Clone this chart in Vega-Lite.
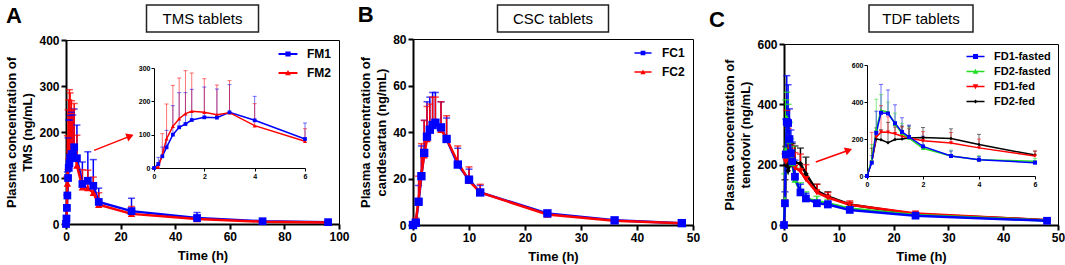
{
"$schema": "https://vega.github.io/schema/vega-lite/v6.json",
"padding": {"left": 5, "top": 3, "right": 1, "bottom": 2},
"background": "white",
"spacing": 7,
"resolve": {"scale": {"color": "independent", "shape": "independent"}, "legend": {"color": "independent", "shape": "independent"}},
"config": {
  "font": "Liberation Sans",
  "view": {"stroke": "#000", "strokeWidth": 1},
  "axis": {"domainColor": "#000", "domainWidth": 2, "tickColor": "#000", "tickWidth": 2, "tickSize": 5, "labelFont": "Liberation Sans", "labelFontWeight": "bold", "labelFontSize": 12, "labelColor": "#000", "labelPadding": 2, "titleFont": "Liberation Sans", "titleFontWeight": "bold", "titleFontSize": 13, "titleColor": "#000", "grid": false, "labelFlush": false},
  "axisY": {"titlePadding": 4, "titleLineHeight": 16},
  "axisX": {"titlePadding": 7},
  "title": {"font": "Liberation Sans", "fontSize": 22, "fontWeight": "bold", "color": "#000", "anchor": "start", "frame": "bounds", "offset": 6}
},
"datasets": {
  "A": [
    {"t":0,"s":"FM1","c":0,"u":0},{"t":0.17,"s":"FM1","c":12,"u":32},{"t":0.33,"s":"FM1","c":35,"u":63},{"t":0.5,"s":"FM1","c":62,"u":113},{"t":0.75,"s":"FM1","c":100,"u":187},{"t":1,"s":"FM1","c":122,"u":226},{"t":1.25,"s":"FM1","c":132,"u":226},{"t":1.5,"s":"FM1","c":144,"u":236},{"t":2,"s":"FM1","c":152,"u":243},{"t":2.5,"s":"FM1","c":151,"u":237},{"t":3,"s":"FM1","c":167,"u":250},{"t":4,"s":"FM1","c":143,"u":215},{"t":6,"s":"FM1","c":87,"u":135},{"t":8,"s":"FM1","c":94,"u":157},{"t":10,"s":"FM1","c":83,"u":140},{"t":12,"s":"FM1","c":48,"u":78},{"t":24,"s":"FM1","c":28,"u":56},{"t":48,"s":"FM1","c":13,"u":25},{"t":72,"s":"FM1","c":6,"u":9},{"t":96,"s":"FM1","c":4,"u":6},
    {"t":0,"s":"FM2","c":0,"u":0},{"t":0.17,"s":"FM2","c":3,"u":8},{"t":0.33,"s":"FM2","c":40,"u":103},{"t":0.5,"s":"FM2","c":88,"u":192},{"t":0.75,"s":"FM2","c":125,"u":248},{"t":1,"s":"FM2","c":148,"u":270},{"t":1.25,"s":"FM2","c":163,"u":292},{"t":1.5,"s":"FM2","c":170,"u":285},{"t":2,"s":"FM2","c":167,"u":268},{"t":2.5,"s":"FM2","c":160,"u":249},{"t":3,"s":"FM2","c":166,"u":262},{"t":4,"s":"FM2","c":127,"u":193},{"t":6,"s":"FM2","c":80,"u":118},{"t":8,"s":"FM2","c":78,"u":117},{"t":10,"s":"FM2","c":68,"u":102},{"t":12,"s":"FM2","c":42,"u":68},{"t":24,"s":"FM2","c":22,"u":38},{"t":48,"s":"FM2","c":11,"u":18},{"t":72,"s":"FM2","c":5,"u":7},{"t":96,"s":"FM2","c":3,"u":4}
  ],
  "B": [
    {"t":0,"s":"FC1","c":0,"u":0},{"t":0.5,"s":"FC1","c":1,"u":2},{"t":1,"s":"FC1","c":10,"u":17},{"t":1.5,"s":"FC1","c":21,"u":34},{"t":2,"s":"FC1","c":31,"u":45},{"t":2.5,"s":"FC1","c":38,"u":53},{"t":3,"s":"FC1","c":41,"u":55},{"t":3.5,"s":"FC1","c":43,"u":57},{"t":4,"s":"FC1","c":44,"u":57},{"t":5,"s":"FC1","c":42,"u":53},{"t":6,"s":"FC1","c":37,"u":46},{"t":8,"s":"FC1","c":26,"u":33},{"t":10,"s":"FC1","c":19.5,"u":24},{"t":12,"s":"FC1","c":14,"u":17},{"t":24,"s":"FC1","c":5,"u":6},{"t":36,"s":"FC1","c":2,"u":2.5},{"t":48,"s":"FC1","c":0.8,"u":1},
    {"t":0,"s":"FC2","c":0,"u":0},{"t":0.5,"s":"FC2","c":1.5,"u":3},{"t":1,"s":"FC2","c":11,"u":21},{"t":1.5,"s":"FC2","c":22,"u":35},{"t":2,"s":"FC2","c":30,"u":45},{"t":2.5,"s":"FC2","c":37,"u":51},{"t":3,"s":"FC2","c":41,"u":52},{"t":3.5,"s":"FC2","c":43,"u":55},{"t":4,"s":"FC2","c":44,"u":55},{"t":5,"s":"FC2","c":41,"u":53},{"t":6,"s":"FC2","c":37,"u":47},{"t":8,"s":"FC2","c":27,"u":34},{"t":10,"s":"FC2","c":19,"u":25},{"t":12,"s":"FC2","c":14,"u":17.5},{"t":24,"s":"FC2","c":4.5,"u":6},{"t":36,"s":"FC2","c":1.8,"u":2.3},{"t":48,"s":"FC2","c":0.7,"u":1}
  ],
  "C": [
    {"t":0,"s":"FD2-fed","c":0,"u":0},{"t":0.17,"s":"FD2-fed","c":80,"u":150},{"t":0.33,"s":"FD2-fed","c":200,"u":260},{"t":0.5,"s":"FD2-fed","c":196,"u":250},{"t":0.75,"s":"FD2-fed","c":180,"u":290},{"t":1,"s":"FD2-fed","c":197,"u":265},{"t":1.25,"s":"FD2-fed","c":200,"u":270},{"t":1.5,"s":"FD2-fed","c":205,"u":270},{"t":2,"s":"FD2-fed","c":208,"u":262},{"t":3,"s":"FD2-fed","c":203,"u":255},{"t":4,"s":"FD2-fed","c":170,"u":225},{"t":6,"s":"FD2-fed","c":113,"u":135},{"t":8,"s":"FD2-fed","c":95,"u":110},{"t":12,"s":"FD2-fed","c":68,"u":75},{"t":24,"s":"FD2-fed","c":36,"u":40},{"t":48,"s":"FD2-fed","c":16,"u":19},
    {"t":0,"s":"FD1-fed","c":0,"u":0},{"t":0.17,"s":"FD1-fed","c":75,"u":236},{"t":0.33,"s":"FD1-fed","c":210,"u":240},{"t":0.5,"s":"FD1-fed","c":238,"u":380},{"t":0.75,"s":"FD1-fed","c":237,"u":320},{"t":1,"s":"FD1-fed","c":228,"u":290},{"t":1.25,"s":"FD1-fed","c":215,"u":265},{"t":1.5,"s":"FD1-fed","c":205,"u":255},{"t":2,"s":"FD1-fed","c":190,"u":240},{"t":3,"s":"FD1-fed","c":178,"u":235},{"t":4,"s":"FD1-fed","c":152,"u":200},{"t":6,"s":"FD1-fed","c":108,"u":135},{"t":8,"s":"FD1-fed","c":91,"u":108},{"t":12,"s":"FD1-fed","c":67,"u":80},{"t":24,"s":"FD1-fed","c":38,"u":42},{"t":48,"s":"FD1-fed","c":16,"u":20},
    {"t":0,"s":"FD2-fasted","c":0,"u":0},{"t":0.17,"s":"FD2-fasted","c":85,"u":170},{"t":0.33,"s":"FD2-fasted","c":250,"u":415},{"t":0.5,"s":"FD2-fasted","c":355,"u":440},{"t":0.75,"s":"FD2-fasted","c":345,"u":400},{"t":1,"s":"FD2-fasted","c":280,"u":340},{"t":1.25,"s":"FD2-fasted","c":230,"u":285},{"t":1.5,"s":"FD2-fasted","c":205,"u":260},{"t":2,"s":"FD2-fasted","c":150,"u":190},{"t":3,"s":"FD2-fasted","c":108,"u":140},{"t":4,"s":"FD2-fasted","c":88,"u":110},{"t":6,"s":"FD2-fasted","c":80,"u":95},{"t":8,"s":"FD2-fasted","c":72,"u":85},{"t":12,"s":"FD2-fasted","c":55,"u":62},{"t":24,"s":"FD2-fasted","c":33,"u":38},{"t":48,"s":"FD2-fasted","c":15,"u":18},
    {"t":0,"s":"FD1-fasted","c":0,"u":0},{"t":0.17,"s":"FD1-fasted","c":72,"u":110},{"t":0.33,"s":"FD1-fasted","c":234,"u":350},{"t":0.5,"s":"FD1-fasted","c":342,"u":495},{"t":0.75,"s":"FD1-fasted","c":338,"u":465},{"t":1,"s":"FD1-fasted","c":285,"u":385},{"t":1.25,"s":"FD1-fasted","c":238,"u":315},{"t":1.5,"s":"FD1-fasted","c":211,"u":275},{"t":2,"s":"FD1-fasted","c":160,"u":215},{"t":3,"s":"FD1-fasted","c":108,"u":135},{"t":4,"s":"FD1-fasted","c":88,"u":105},{"t":6,"s":"FD1-fasted","c":72,"u":82},{"t":8,"s":"FD1-fasted","c":68,"u":80},{"t":12,"s":"FD1-fasted","c":50,"u":58},{"t":24,"s":"FD1-fasted","c":31,"u":36},{"t":48,"s":"FD1-fasted","c":14,"u":17}
  ]
},
"hconcat": [
  {
    "bounds": "flush", "center": true, "spacing": 8,
    "resolve": {"legend": {"color": "independent", "shape": "independent"}},
    "vconcat": [
      {"width": 112, "height": 27, "view": {"stroke": "#222", "strokeWidth": 1.5}, "data": {"values": [{}]}, "mark": {"type": "text", "fontSize": 15, "font": "Liberation Sans", "color": "#000"}, "encoding": {"text": {"value": "TMS tablets"}}},
      {
        "width": 273, "height": 184,
        "title": {"text": "A"},
        "data": {"name": "A"},
        "resolve": {"scale": {"x": "independent", "y": "independent"}},
        "layer": [
          {
            "encoding": {
              "x": {"field": "t", "type": "quantitative", "scale": {"domain": [0, 100], "nice": false}, "axis": {"title": "Time (h)", "values": [0, 20, 40, 60, 80, 100]}},
              "y": {"field": "c", "type": "quantitative", "scale": {"domain": [0, 400], "nice": false}, "axis": {"title": ["Plasma concentration of", "TMS (ng/mL)"], "values": [0, 100, 200, 300, 400]}}
            },
            "layer": [
              {"transform": [{"filter": "false"}], "mark": {"type": "point", "filled": true, "opacity": 1},
               "encoding": {
                 "color": {"field": "s", "type": "nominal", "scale": {"domain": ["FM1", "FM2"], "range": ["#0000ff", "#ff0000"]}, "legend": {"title": null, "orient": "top-right", "offset": 8, "labelFontSize": 12, "labelFontWeight": "bold", "labelColor": "#000", "symbolSize": 110, "labelOffset": 13, "rowPadding": 7, "padding": 0, "symbolStrokeWidth": 0}},
                 "shape": {"field": "s", "type": "nominal", "scale": {"domain": ["FM1", "FM2"], "range": ["M-1.8,-0.17H1.8V0.17H-1.8Z M-0.5,-0.5H0.5V0.5H-0.5Z", "M-1.8,-0.17H1.8V0.17H-1.8Z M0,-0.55L0.55,0.45H-0.55Z"]}, "legend": {"title": null, "orient": "top-right", "offset": 8, "labelFontSize": 12, "labelFontWeight": "bold", "labelColor": "#000", "symbolSize": 110, "labelOffset": 13, "rowPadding": 7, "padding": 0, "symbolStrokeWidth": 0}}
               }},
              {"mark": {"type": "rule", "strokeWidth": 1.5}, "encoding": {"y2": {"field": "u"}, "color": {"field": "s", "type": "nominal", "scale": {"domain": ["FM1", "FM2"], "range": ["#0000ff", "#ff0000"]}, "legend": null}}},
              {"mark": {"type": "tick", "orient": "horizontal", "size": 7, "thickness": 1.5}, "encoding": {"y": {"field": "u", "type": "quantitative"}, "color": {"field": "s", "type": "nominal", "scale": {"domain": ["FM1", "FM2"], "range": ["#0000ff", "#ff0000"]}, "legend": null}}},
              {"mark": {"type": "line", "strokeWidth": 2.5}, "encoding": {"color": {"field": "s", "type": "nominal", "scale": {"domain": ["FM1", "FM2"], "range": ["#0000ff", "#ff0000"]}, "legend": null}}},
              {"transform": [{"filter": "datum.s === 'FM2'"}], "mark": {"type": "point", "shape": "triangle-up", "filled": true, "size": 55, "opacity": 1, "color": "#ff0000"}, "encoding": {}},
              {"transform": [{"filter": "datum.s === 'FM1'"}], "mark": {"type": "point", "shape": "square", "filled": true, "size": 60, "opacity": 1, "color": "#0000ff"}, "encoding": {}},
              {"data": {"values": [{"t": 10.3, "c": 160}, {"t": 23.5, "c": 191}]}, "mark": {"type": "line", "color": "#ff0000", "strokeWidth": 1.5}, "encoding": {}},
              {"data": {"values": [{"t": 23.5, "c": 191}]}, "mark": {"type": "point", "shape": "triangle-right", "angle": -22, "size": 70, "filled": true, "opacity": 1, "color": "#ff0000"}, "encoding": {}}
            ]
          },
          {
            "transform": [{"filter": "datum.t <= 6"}],
            "encoding": {
              "x": {"field": "t", "type": "quantitative", "scale": {"domain": [0, 6], "range": [88, 239], "nice": false}, "axis": {"orient": "bottom", "offset": -56, "title": null, "values": [0, 2, 4, 6], "labelFontSize": 7, "domainWidth": 1, "tickWidth": 1, "tickSize": 3, "labelPadding": 1}},
              "y": {"field": "c", "type": "quantitative", "scale": {"domain": [0, 300], "range": [128, 28], "nice": false}, "axis": {"orient": "left", "offset": -88, "title": null, "values": [0, 100, 200, 300], "labelFontSize": 7, "domainWidth": 1, "tickWidth": 1, "tickSize": 3, "labelPadding": 1}},
              "color": {"field": "s", "type": "nominal", "scale": {"domain": ["FM1", "FM2"], "range": ["#0000ff", "#ff0000"]}, "legend": null}
            },
            "layer": [
              {"mark": {"type": "rule", "strokeWidth": 1, "opacity": 0.55}, "encoding": {"y2": {"field": "u"}}},
              {"mark": {"type": "tick", "orient": "horizontal", "size": 4, "thickness": 1, "opacity": 0.55}, "encoding": {"y": {"field": "u", "type": "quantitative"}}},
              {"mark": {"type": "line", "strokeWidth": 1.5}},
              {"transform": [{"filter": "datum.s === 'FM2'"}], "mark": {"type": "point", "shape": "triangle-up", "filled": true, "size": 16, "opacity": 1}},
              {"transform": [{"filter": "datum.s === 'FM1'"}], "mark": {"type": "point", "shape": "square", "filled": true, "size": 14, "opacity": 1}}
            ]
          }
        ]
      }
    ]
  },
  {
    "bounds": "flush", "center": true, "spacing": 7,
    "resolve": {"legend": {"color": "independent", "shape": "independent"}},
    "vconcat": [
      {"width": 111, "height": 27, "view": {"stroke": "#222", "strokeWidth": 1.5}, "data": {"values": [{}]}, "mark": {"type": "text", "fontSize": 15, "font": "Liberation Sans", "color": "#000"}, "encoding": {"text": {"value": "CSC tablets"}}},
      {
        "width": 280, "height": 186,
        "title": {"text": "B", "dx": -2},
        "data": {"name": "B"},
        "encoding": {
          "x": {"field": "t", "type": "quantitative", "scale": {"domain": [0, 50], "nice": false}, "axis": {"title": "Time (h)", "values": [0, 10, 20, 30, 40, 50]}},
          "y": {"field": "c", "type": "quantitative", "scale": {"domain": [0, 80], "nice": false}, "axis": {"title": ["Plasma concentration of", "candesartan (ng/mL)"], "values": [0, 20, 40, 60, 80]}}
        },
        "layer": [
          {"transform": [{"filter": "false"}], "mark": {"type": "point", "filled": true, "opacity": 1},
           "encoding": {
             "color": {"field": "s", "type": "nominal", "scale": {"domain": ["FC1", "FC2"], "range": ["#0000ff", "#ff0000"]}, "legend": {"title": null, "orient": "top-right", "offset": 8, "labelFontSize": 12, "labelFontWeight": "bold", "labelColor": "#000", "symbolSize": 90, "labelOffset": 13, "rowPadding": 7, "padding": 0, "symbolStrokeWidth": 0}},
             "shape": {"field": "s", "type": "nominal", "scale": {"domain": ["FC1", "FC2"], "range": ["M-1.8,-0.17H1.8V0.17H-1.8Z M-0.5,-0.5H0.5V0.5H-0.5Z", "M-1.8,-0.17H1.8V0.17H-1.8Z M0,-0.55L0.55,0.45H-0.55Z"]}, "legend": {"title": null, "orient": "top-right", "offset": 8, "labelFontSize": 12, "labelFontWeight": "bold", "labelColor": "#000", "symbolSize": 90, "labelOffset": 13, "rowPadding": 7, "padding": 0, "symbolStrokeWidth": 0}}
           }},
          {"mark": {"type": "rule", "strokeWidth": 1.5}, "encoding": {"y2": {"field": "u"}, "color": {"field": "s", "type": "nominal", "scale": {"domain": ["FC1", "FC2"], "range": ["#0000ff", "#ff0000"]}, "legend": null}}},
          {"mark": {"type": "tick", "orient": "horizontal", "size": 7, "thickness": 1.5}, "encoding": {"y": {"field": "u", "type": "quantitative"}, "color": {"field": "s", "type": "nominal", "scale": {"domain": ["FC1", "FC2"], "range": ["#0000ff", "#ff0000"]}, "legend": null}}},
          {"mark": {"type": "line", "strokeWidth": 2.5}, "encoding": {"color": {"field": "s", "type": "nominal", "scale": {"domain": ["FC1", "FC2"], "range": ["#0000ff", "#ff0000"]}, "legend": null}}},
          {"transform": [{"filter": "datum.s === 'FC2'"}], "mark": {"type": "point", "shape": "triangle-up", "filled": true, "size": 55, "opacity": 1, "color": "#ff0000"}, "encoding": {}},
          {"transform": [{"filter": "datum.s === 'FC1'"}], "mark": {"type": "point", "shape": "square", "filled": true, "size": 70, "opacity": 1, "color": "#0000ff"}, "encoding": {}}
        ]
      }
    ]
  },
  {
    "bounds": "flush", "center": true, "spacing": 12,
    "resolve": {"legend": {"color": "independent", "shape": "independent"}},
    "vconcat": [
      {"width": 104, "height": 27, "view": {"stroke": "#222", "strokeWidth": 1.5}, "data": {"values": [{}]}, "mark": {"type": "text", "fontSize": 15, "font": "Liberation Sans", "color": "#000"}, "encoding": {"text": {"value": "TDF tablets"}}},
      {
        "width": 274, "height": 181,
        "title": {"text": "C", "dx": -15},
        "data": {"name": "C"},
        "resolve": {"scale": {"x": "independent", "y": "independent"}},
        "layer": [
          {
            "encoding": {
              "x": {"field": "t", "type": "quantitative", "scale": {"domain": [0, 50], "nice": false}, "axis": {"title": "Time (h)", "values": [0, 10, 20, 30, 40, 50]}},
              "y": {"field": "c", "type": "quantitative", "scale": {"domain": [0, 600], "nice": false}, "axis": {"title": ["Plasma concentration of", "tenofovir (ng/mL)"], "values": [0, 200, 400, 600]}}
            },
            "layer": [
              {"transform": [{"filter": "false"}], "mark": {"type": "point", "filled": true, "opacity": 1},
               "encoding": {
                 "color": {"field": "s", "type": "nominal", "scale": {"domain": ["FD1-fasted", "FD2-fasted", "FD1-fed", "FD2-fed"], "range": ["#0000ff", "#22dd22", "#ff0000", "#000000"]}, "legend": {"title": null, "orient": "top-right", "offset": 7, "labelFontSize": 11, "labelFontWeight": "bold", "labelColor": "#000", "symbolSize": 100, "labelOffset": 13, "rowPadding": 3, "padding": 0, "symbolStrokeWidth": 0}},
                 "shape": {"field": "s", "type": "nominal", "scale": {"domain": ["FD1-fasted", "FD2-fasted", "FD1-fed", "FD2-fed"], "range": ["M-1.8,-0.17H1.8V0.17H-1.8Z M-0.5,-0.5H0.5V0.5H-0.5Z", "M-1.8,-0.17H1.8V0.17H-1.8Z M0,-0.55L0.55,0.45H-0.55Z", "M-1.8,-0.17H1.8V0.17H-1.8Z M-0.55,-0.45H0.55L0,0.55Z", "M-1.8,-0.17H1.8V0.17H-1.8Z M0,-0.4L0.4,0L0,0.4L-0.4,0Z"]}, "legend": {"title": null, "orient": "top-right", "offset": 7, "labelFontSize": 11, "labelFontWeight": "bold", "labelColor": "#000", "symbolSize": 100, "labelOffset": 13, "rowPadding": 3, "padding": 0, "symbolStrokeWidth": 0}}
               }},
              {"mark": {"type": "rule", "strokeWidth": 1.5}, "encoding": {"y2": {"field": "u"}, "color": {"field": "s", "type": "nominal", "scale": {"domain": ["FD1-fasted", "FD2-fasted", "FD1-fed", "FD2-fed"], "range": ["#0000ff", "#22dd22", "#ff0000", "#000000"]}, "legend": null}}},
              {"mark": {"type": "tick", "orient": "horizontal", "size": 7, "thickness": 1.5}, "encoding": {"y": {"field": "u", "type": "quantitative"}, "color": {"field": "s", "type": "nominal", "scale": {"domain": ["FD1-fasted", "FD2-fasted", "FD1-fed", "FD2-fed"], "range": ["#0000ff", "#22dd22", "#ff0000", "#000000"]}, "legend": null}}},
              {"mark": {"type": "line", "strokeWidth": 2.5}, "encoding": {"color": {"field": "s", "type": "nominal", "scale": {"domain": ["FD1-fasted", "FD2-fasted", "FD1-fed", "FD2-fed"], "range": ["#0000ff", "#22dd22", "#ff0000", "#000000"]}, "legend": null}}},
              {"transform": [{"filter": "datum.s === 'FD2-fed'"}], "mark": {"type": "point", "shape": "diamond", "filled": true, "size": 30, "opacity": 1, "color": "#000000"}, "encoding": {}},
              {"transform": [{"filter": "datum.s === 'FD1-fed'"}], "mark": {"type": "point", "shape": "triangle-down", "filled": true, "size": 50, "opacity": 1, "color": "#ff0000"}, "encoding": {}},
              {"transform": [{"filter": "datum.s === 'FD2-fasted'"}], "mark": {"type": "point", "shape": "triangle-up", "filled": true, "size": 50, "opacity": 1, "color": "#22dd22"}, "encoding": {}},
              {"transform": [{"filter": "datum.s === 'FD1-fasted'"}], "mark": {"type": "point", "shape": "square", "filled": true, "size": 60, "opacity": 1, "color": "#0000ff"}, "encoding": {}},
              {"data": {"values": [{"t": 5.8, "c": 209}, {"t": 11.8, "c": 248}]}, "mark": {"type": "line", "color": "#ff0000", "strokeWidth": 1.5}, "encoding": {}},
              {"data": {"values": [{"t": 11.8, "c": 248}]}, "mark": {"type": "point", "shape": "triangle-right", "angle": -20, "size": 70, "filled": true, "opacity": 1, "color": "#ff0000"}, "encoding": {}}
            ]
          },
          {
            "transform": [{"filter": "datum.t <= 6"}],
            "encoding": {
              "x": {"field": "t", "type": "quantitative", "scale": {"domain": [0, 6], "range": [83, 251], "nice": false}, "axis": {"orient": "bottom", "offset": -49, "title": null, "values": [0, 2, 4, 6], "labelFontSize": 7, "domainWidth": 1, "tickWidth": 1, "tickSize": 3, "labelPadding": 1}},
              "y": {"field": "c", "type": "quantitative", "scale": {"domain": [0, 600], "range": [132, 21], "nice": false}, "axis": {"orient": "left", "offset": -83, "title": null, "values": [0, 200, 400, 600], "labelFontSize": 7, "domainWidth": 1, "tickWidth": 1, "tickSize": 3, "labelPadding": 1}},
              "color": {"field": "s", "type": "nominal", "scale": {"domain": ["FD1-fasted", "FD2-fasted", "FD1-fed", "FD2-fed"], "range": ["#0000ff", "#22dd22", "#ff0000", "#000000"]}, "legend": null}
            },
            "layer": [
              {"mark": {"type": "rule", "strokeWidth": 1, "opacity": 0.55}, "encoding": {"y2": {"field": "u"}}},
              {"mark": {"type": "tick", "orient": "horizontal", "size": 4, "thickness": 1, "opacity": 0.55}, "encoding": {"y": {"field": "u", "type": "quantitative"}}},
              {"mark": {"type": "line", "strokeWidth": 1.5}},
              {"transform": [{"filter": "datum.s === 'FD2-fed'"}], "mark": {"type": "point", "shape": "diamond", "filled": true, "size": 12, "opacity": 1}},
              {"transform": [{"filter": "datum.s === 'FD1-fed'"}], "mark": {"type": "point", "shape": "triangle-down", "filled": true, "size": 16, "opacity": 1}},
              {"transform": [{"filter": "datum.s === 'FD2-fasted'"}], "mark": {"type": "point", "shape": "triangle-up", "filled": true, "size": 16, "opacity": 1}},
              {"transform": [{"filter": "datum.s === 'FD1-fasted'"}], "mark": {"type": "point", "shape": "square", "filled": true, "size": 16, "opacity": 1}}
            ]
          }
        ]
      }
    ]
  }
]
}
